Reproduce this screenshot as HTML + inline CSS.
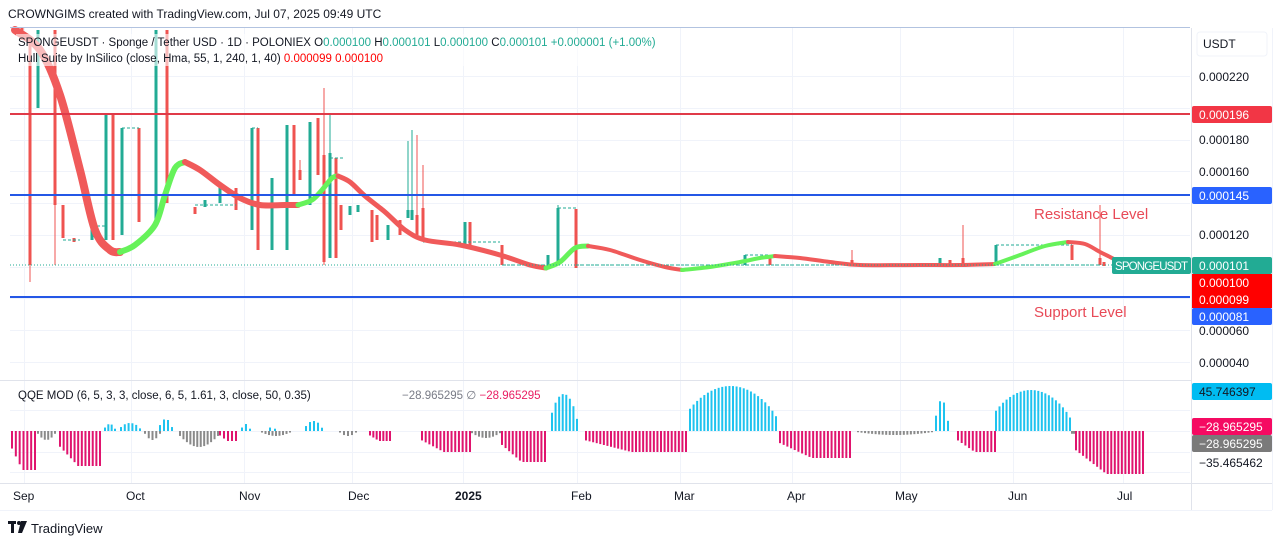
<!DOCTYPE html>
<html><head><meta charset="utf-8"><style>
body{margin:0;background:#fff;width:1281px;height:546px;overflow:hidden;font-family:"Liberation Sans",sans-serif}
svg{display:block}
text{font-family:"Liberation Sans",sans-serif}
</style></head><body>
<svg id="s" width="1281" height="546" xmlns="http://www.w3.org/2000/svg">
<rect width="1281" height="546" fill="#fff"/>
<g id="grid" stroke="#f0f3fa" stroke-width="1"></g>
<g id="hist"></g>
<g id="cand"></g>
<g id="hull" fill="none" stroke-linecap="round" stroke-linejoin="round"></g>
<line x1="10" y1="265" x2="1190" y2="265" stroke="#22ab94" stroke-dasharray="1,2"/>
<line x1="10" y1="114" x2="1190" y2="114" stroke="#e03a48" stroke-width="2"/>
<line x1="10" y1="195" x2="1190" y2="195" stroke="#2457e6" stroke-width="2"/>
<line x1="10" y1="297" x2="1190" y2="297" stroke="#2457e6" stroke-width="2"/>
<text x="1034" y="219" font-size="15" fill="#e84a57">Resistance Level</text>
<text x="1034" y="317" font-size="15" fill="#e84a57">Support Level</text>
<line x1="10" y1="27.5" x2="1190" y2="27.5" stroke="#b2c3e0"/>
<line x1="0" y1="380.5" x2="1191" y2="380.5" stroke="#e0e3eb"/>
<line x1="0" y1="483.5" x2="1272" y2="483.5" stroke="#e0e3eb"/>
<line x1="1191.5" y1="28" x2="1191.5" y2="510" stroke="#e0e3eb"/>
<line x1="1272.5" y1="28" x2="1272.5" y2="510" stroke="#f0f3fa"/>
<line x1="0" y1="510.5" x2="1272" y2="510.5" stroke="#f0f3fa"/>
<text x="8" y="18" font-size="12" fill="#131722">CROWNGIMS created with TradingView.com, Jul 07, 2025 09:49 UTC</text>
<rect x="16" y="34" width="650" height="32" fill="#fff" opacity="0.6"/>
<text x="18" y="46" font-size="11.5" fill="#131722">SPONGEUSDT · Sponge / Tether USD · 1D · POLONIEX  O<tspan fill="#22ab94">0.000100</tspan>  H<tspan fill="#22ab94">0.000101</tspan>  L<tspan fill="#22ab94">0.000100</tspan>  C<tspan fill="#22ab94">0.000101  +0.000001 (+1.00%)</tspan></text>
<text x="18" y="62" font-size="11.5" fill="#131722">Hull Suite by InSilico (close, Hma, 55, 1, 240, 1, 40)  <tspan fill="#f00">0.000099  0.000100</tspan></text>
<text x="18" y="399" font-size="11.5" fill="#131722">QQE MOD (6, 5, 3, 3, close, 6, 5, 1.61, 3, close, 50, 0.35)</text>
<text x="402" y="399" font-size="11.5" fill="#787b86">−28.965295  ∅  <tspan fill="#e91e63">−28.965295</tspan></text>
<rect x="1197" y="32" width="70" height="24" rx="3" fill="#fff" stroke="#f0f3fa"/>
<text x="1203" y="48" font-size="12" fill="#131722">USDT</text>
<g font-size="12" fill="#131722">
<text x="1199" y="81">0.000220</text>
<text x="1199" y="144">0.000180</text>
<text x="1199" y="176">0.000160</text>
<text x="1199" y="239">0.000120</text>
<text x="1199" y="335">0.000060</text>
<text x="1199" y="367">0.000040</text>
</g>
<rect x="1192" y="106" width="80" height="17" rx="2" fill="#f23645"/><text x="1199" y="119" font-size="12" fill="#fff">0.000196</text>
<rect x="1192" y="187" width="80" height="17" rx="2" fill="#2962ff"/><text x="1199" y="200" font-size="12" fill="#fff">0.000145</text>
<rect x="1112" y="257" width="79" height="17" rx="2" fill="#22ab94"/><text x="1115" y="270" font-size="11.5" fill="#fff" textLength="73">SPONGEUSDT</text>
<rect x="1192" y="257" width="80" height="17" rx="2" fill="#22ab94"/><text x="1199" y="270" font-size="12" fill="#fff">0.000101</text>
<rect x="1192" y="274" width="80" height="17" fill="#ff0000"/><text x="1199" y="287" font-size="12" fill="#fff">0.000100</text>
<rect x="1192" y="291" width="80" height="17" fill="#ff0000"/><text x="1199" y="304" font-size="12" fill="#fff">0.000099</text>
<rect x="1192" y="308" width="80" height="17" rx="2" fill="#2962ff"/><text x="1199" y="321" font-size="12" fill="#fff">0.000081</text>
<rect x="1192" y="383" width="80" height="17" rx="2" fill="#00bcf2"/><text x="1199" y="396" font-size="12" fill="#131722">45.746397</text>
<rect x="1192" y="418" width="80" height="17" rx="2" fill="#f50a62"/><text x="1199" y="431" font-size="12" fill="#fff">−28.965295</text>
<rect x="1192" y="435" width="80" height="17" rx="2" fill="#7a7a7a"/><text x="1199" y="448" font-size="12" fill="#fff">−28.965295</text>
<text x="1199" y="467" font-size="12" fill="#131722">−35.465462</text>
<g font-size="12" fill="#131722">
<text x="13" y="500">Sep</text><text x="126" y="500">Oct</text><text x="239" y="500">Nov</text>
<text x="348" y="500">Dec</text><text x="455" y="500" font-weight="bold">2025</text><text x="571" y="500">Feb</text>
<text x="674" y="500">Mar</text><text x="787" y="500">Apr</text><text x="895" y="500">May</text>
<text x="1008" y="500">Jun</text><text x="1117" y="500">Jul</text>
</g>
<rect x="8" y="521" width="8" height="3" fill="#131722"/><rect x="11" y="521" width="3" height="12" fill="#131722"/><circle cx="19" cy="523" r="2" fill="#131722"/><path d="M21 521 L27 521 L22 533 L18 533 Z" fill="#131722"/>
<text x="31" y="533" font-size="13" fill="#131722">TradingView</text>
</svg>
<script>
var NS="http://www.w3.org/2000/svg";
function el(p,t,a){var e=document.createElementNS(NS,t);for(var k in a)e.setAttribute(k,a[k]);p.appendChild(e);return e;}
var g=document.getElementById('grid');
[24,131,244,352,463,577,680,792,900,1013,1123].forEach(function(x){el(g,'line',{x1:x+.5,y1:28,x2:x+.5,y2:483});});
[76,108,140,171,203,235,267,298,330,362].forEach(function(y){el(g,'line',{x1:10,y1:y+.5,x2:1190,y2:y+.5});});
[410,431,452,472].forEach(function(y){el(g,'line',{x1:10,y1:y+.5,x2:1190,y2:y+.5});});
var G="#22ab94",R="#ef5350";
var C=[[22,28,40,28,40,R],[30,36,265,36,282,R],[38,30,108,30,108,G],[55,30,205,30,265,R],[63,205,238,205,238,R],[74,238,242,238,242,R],[92,226,240,226,240,G],[106,113,240,113,240,G],[113,113,240,113,240,R],[122,128,235,128,235,G],[139,128,222,128,222,R],[156,30,222,30,222,G],[167,30,203,30,203,R],[195,207,214,207,214,R],[205,200,207,200,207,G],[220,184,203,184,203,G],[236,188,210,188,210,R],[252,128,230,128,230,G],[258,128,250,128,250,R],[272,178,250,178,250,G],[287,125,250,125,250,G],[294,125,195,125,195,R],[300,170,180,160,180,R],[310,122,205,122,205,G],[318,118,175,118,175,R],[324,155,262,88,265,R],[330,153,258,113,258,G],[336,158,258,158,258,R],[341,205,230,205,230,R],[350,206,215,206,215,G],[358,205,212,205,212,G],[372,210,242,210,242,R],[377,215,240,215,240,R],[388,225,240,225,240,G],[400,220,235,220,235,R],[408,210,218,141,218,G],[412,210,220,130,220,G],[417,215,235,135,235,R],[423,208,240,165,240,R],[465,222,245,222,245,G],[470,222,245,222,245,R],[502,245,265,245,265,R],[548,255,265,255,265,G],[558,208,262,205,262,G],[576,209,268,209,268,R],[745,255,265,255,265,G],[770,255,265,255,265,R],[852,260,265,250,265,R],[940,258,265,258,265,G],[950,260,265,260,265,R],[963,258,265,225,265,R],[996,245,265,245,265,G],[1072,245,260,245,260,R],[1100,258,265,205,265,R],[1104,262,266,262,266,R]];
var cg=document.getElementById('cand');
C.forEach(function(c){el(cg,'line',{x1:c[0],y1:c[3],x2:c[0],y2:c[4],stroke:c[5],'stroke-width':1});
el(cg,'rect',{x:c[0]-1.5,y:c[1],width:3,height:Math.max(1,c[2]-c[1]),fill:c[5]});});
var flats=[[63,80,240],[92,106,226],[122,139,128],[195,236,205],[252,258,128],[330,345,158],[423,500,242],[502,548,265],[558,576,208],[576,1100,265],[745,770,255],[996,1072,245]];
flats.forEach(function(f){el(cg,'line',{x1:f[0],y1:f[2],x2:f[1],y2:f[2],stroke:G,'stroke-width':1,'stroke-dasharray':'3,2'});});
var H=[
[R,8,[[15,30],[40,50],[60,95],[80,170],[95,230],[110,250],[120,252]]],
[G,6,[[120,252],[135,245],[155,225],[165,195],[175,168],[185,162]]],
[R,6,[[185,162],[200,170],[220,185],[240,198],[260,205],[285,205],[298,205]]],
[G,5,[[298,205],[312,200],[322,190],[332,178],[338,176]]],
[R,5,[[338,176],[350,182],[365,196],[385,212],[405,230],[425,240],[460,245],[500,255],[530,265],[546,268]]],
[G,5,[[546,268],[560,262],[575,248],[588,246]]],
[R,4,[[588,246],[610,250],[640,260],[665,267],[682,270]]],
[G,4,[[682,270],[710,267],[740,262],[760,258],[775,256]]],
[R,4,[[775,256],[800,258],[830,262],[860,265],[920,265],[960,265],[995,264]]],
[G,4,[[995,264],[1020,255],[1045,246],[1068,242]]],
[R,4,[[1068,242],[1085,244],[1100,252],[1112,258],[1125,265]]]];
function smooth(p){var d='M'+p[0][0]+','+p[0][1];for(var i=0;i<p.length-1;i++){var p0=p[i-1]||p[i],p1=p[i],p2=p[i+1],p3=p[i+2]||p2;
d+=' C'+(p1[0]+(p2[0]-p0[0])/6)+','+(p1[1]+(p2[1]-p0[1])/6)+' '+(p2[0]-(p3[0]-p1[0])/6)+','+(p2[1]-(p3[1]-p1[1])/6)+' '+p2[0]+','+p2[1];}return d;}
var hg=document.getElementById('hull');
H.forEach(function(h){el(hg,'path',{d:smooth(h[2]),stroke:h[0]==R?"#f05a5a":"#66f25a",'stroke-width':h[1]});});
var M="#e0146e",B="#1ec3ef",Y="#8a8a8a";
var S=[[12,35,470,M],[38,55,440,Y],[60,100,466,M],[105,115,424,B],[121,140,423,B],[145,160,440,Y],[160,172,419,B],[180,218,447,Y],[220,236,441,M],[242,250,424,B],[262,290,436,Y],[270,275,424,B],[306,322,421,B],[340,356,436,Y],[370,390,441,M],[422,470,452,M],[472,500,438,Y],[502,545,462,M],[552,577,394,B],[586,686,452,M],[690,776,386,B],[780,850,458,M],[858,932,435,Y],[936,948,400,B],[958,995,452,M],[996,1070,390,B],[1072,1074,440,Y],[1076,1143,474,M]];
var hs=document.getElementById('hist');
S.forEach(function(s){var n=Math.max(1,Math.round((s[1]-s[0])/3.6));
for(var i=0;i<=n;i++){var x=s[0]+(s[1]-s[0])*i/n;var t=i/n;var f;
if(s[3]==M){f=0.45+0.55*Math.min(1,t*2.2);}
else if(s[3]==B){f=Math.pow(Math.sin(Math.PI*(0.1+0.85*t)),0.6);f=Math.max(0.25,f);}
else{f=Math.max(0.3,Math.sin(Math.PI*(0.1+0.8*t)));}
var h=(s[2]-431)*f;
el(hs,'rect',{x:x-1,y:Math.min(431,431+h),width:2,height:Math.abs(h),fill:s[3]});}});
</script>
</body></html>
